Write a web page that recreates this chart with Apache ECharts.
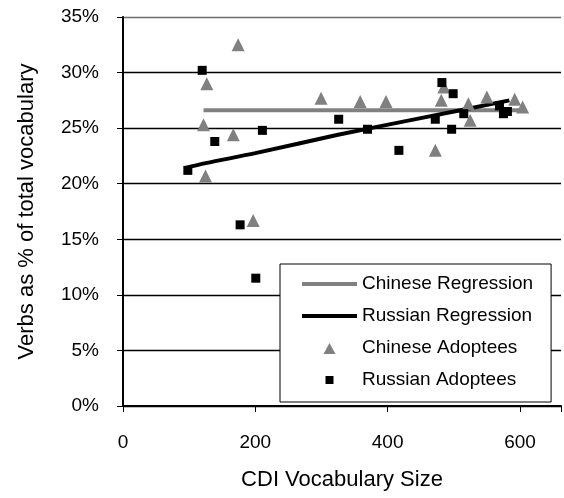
<!DOCTYPE html>
<html>
<head>
<meta charset="utf-8">
<script src="https://cdn.jsdelivr.net/npm/echarts@6/dist/echarts.min.js"></script>
<style>
html,body{margin:0;padding:0;background:#fff;}
#chart{width:564px;height:498px;}
</style>
</head>
<body>
<div id="chart"></div>
<script>
// Data
var chineseAdoptees = [
  [174, 32.5], [126.7, 29.0], [121.7, 25.3], [166.7, 24.4], [124.7, 20.7],
  [299.4, 27.7], [196.8, 16.7], [358.5, 27.4], [397.5, 27.4], [481, 27.5],
  [485, 28.7], [522, 27.2], [524.7, 25.7], [550, 27.8], [592, 27.6],
  [604, 26.9], [472, 23.0]
];
var russianAdoptees = [
  [119.7, 30.2], [138.7, 23.8], [210.7, 24.8], [98, 21.2], [177, 16.3],
  [200.7, 11.5], [326, 25.8], [369.5, 24.9], [417, 23.0], [472, 25.8],
  [482, 29.1], [499, 28.1], [496.7, 24.9], [515, 26.3], [569, 27.0],
  [575, 26.3], [581, 26.5]
];
var chineseRegression = [[121.7, 26.6], [599, 26.6]];
var russianRegression = [[93, 21.4], [125, 21.85], [200, 22.75], [325, 24.4], [450, 25.9], [584, 27.5]];
var xTicks = [0, 200, 400, 600];
var yTicks = [0, 5, 10, 15, 20, 25, 30, 35];

var FONT = 'Liberation Sans, Arial, sans-serif';
// legend icons (55x14 box, shape drawn inside it)
var ICON_LINE = 'path://M0,0 M55,14 M0,5 L55,5 L55,9 L0,9 Z';
var ICON_TRI = 'path://M0,0 M55,14 M27.5,2 L33.5,13 L21.5,13 Z';
var ICON_SQ = 'path://M0,0 M55,14 M23.5,3 L31.5,3 L31.5,11 L23.5,11 Z';

var chart = echarts.init(document.getElementById('chart'), null, {renderer: 'canvas'});
chart.setOption({
  animation: false,
  backgroundColor: '#fff',
  textStyle: {fontFamily: FONT, color: '#000'},
  grid: {left: 123, right: 0, top: 17, bottom: 92, containLabel: false},
  xAxis: {
    type: 'value', min: 0, max: 662, interval: 200,
    name: 'CDI Vocabulary Size', nameLocation: 'middle', nameGap: 63,
    nameTextStyle: {fontSize: 22, color: '#000', fontFamily: FONT},
    axisLine: {show: true, onZero: false, lineStyle: {color: '#000', width: 2}},
    axisTick: {show: true, length: 6, lineStyle: {color: '#000', width: 1}},
    axisLabel: {fontSize: 19, color: '#000', margin: 27, fontFamily: FONT,
      formatter: function (v) { return xTicks.indexOf(v) >= 0 ? String(v) : ''; }},
    splitLine: {show: false}
  },
  yAxis: {
    type: 'value', min: 0, max: 35, interval: 5,
    name: 'Verbs as % of total vocabulary', nameLocation: 'middle', nameGap: 85,
    nameTextStyle: {fontSize: 22, color: '#000', fontFamily: FONT},
    axisLine: {show: true, lineStyle: {color: '#000', width: 2}},
    axisTick: {show: true, length: 6, lineStyle: {color: '#000', width: 1}},
    axisLabel: {fontSize: 19, color: '#000', margin: 24, fontFamily: FONT,
      formatter: function (v) { return yTicks.indexOf(v) >= 0 ? v + '%' : ''; }},
    splitLine: {show: true, lineStyle: {
      color: ['#000', '#000', '#000', '#000', '#000', '#000', '#000', '#6e6e6e'], width: 1.3}}
  },
  legend: {
    orient: 'vertical', left: 280, top: 264,
    padding: [10, 18, 12, 22],
    itemGap: 12, itemWidth: 55, itemHeight: 14,
    backgroundColor: '#fff', borderColor: '#000', borderWidth: 1,
    textStyle: {fontSize: 19, color: '#000', fontFamily: FONT, lineHeight: 20},
    data: [
      {name: 'Chinese Regression', icon: ICON_LINE},
      {name: 'Russian Regression', icon: ICON_LINE},
      {name: 'Chinese Adoptees', icon: ICON_TRI},
      {name: 'Russian Adoptees', icon: ICON_SQ}
    ]
  },
  series: [
    {name: 'Chinese Regression', type: 'line', data: chineseRegression, symbol: 'none',
      lineStyle: {color: '#808080', width: 4}, itemStyle: {color: '#808080'}, z: 2},
    {name: 'Russian Regression', type: 'line', data: russianRegression, symbol: 'none', smooth: 0.3,
      lineStyle: {color: '#000', width: 4}, itemStyle: {color: '#000'}, z: 2},
    {name: 'Chinese Adoptees', type: 'scatter', data: chineseAdoptees, symbol: 'triangle',
      symbolSize: 13, itemStyle: {color: '#808080', opacity: 1}, z: 3},
    {name: 'Russian Adoptees', type: 'scatter', data: russianAdoptees, symbol: 'rect',
      symbolSize: 9, itemStyle: {color: '#000', opacity: 1}, z: 3}
  ]
});
</script>
</body>
</html>
